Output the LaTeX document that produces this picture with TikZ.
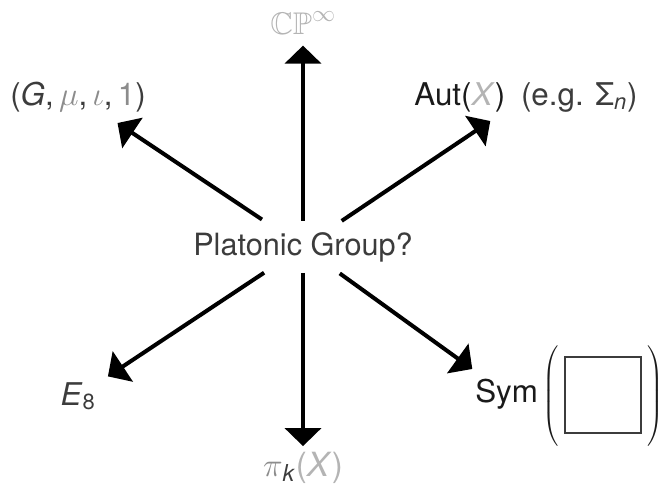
\documentclass[tikz,border=0pt]{standalone}
\usepackage{amssymb}
\usepackage{fontspec}
\setmainfont{TeX Gyre Heros}
\usetikzlibrary{arrows.meta}
\definecolor{inkblack}{HTML}{1A1A1A}
\definecolor{inkdark}{HTML}{3C3C3C}
\definecolor{inkmid}{HTML}{8C8C8C}
\definecolor{inklight}{HTML}{B4B4B4}

\begin{document}
\begin{tikzpicture}[
  x=0.75pt, y=-0.75pt,
  lbl/.style={inner sep=0pt, font=\fontsize{23.5}{28}\selectfont, text=#1},
  lbl/.default=inkdark,
  paren/.style={inner sep=0pt, font=\fontsize{14}{16}\selectfont, text=inkblack},
  arrow/.style={-{Triangle[length=13.5pt,width=27pt]}, line width=3pt},
]
\useasboundingbox (0,0) rectangle (664,489);

\node[lbl, font=\fontsize{23}{27}\selectfont, anchor=base] (pg) at (303,255) {Platonic Group?};
\node[lbl=inklight, anchor=base] (cp) at (303,34) {$\mathbb{CP}^\infty$};
\node[lbl, anchor=base] (gmu) at (78,105) {(\textit{G},\,\textcolor{inkmid}{$\mu$},\,\textcolor{inkmid}{$\iota$},\,\textcolor{inkmid}{1})};
\node[lbl=inkblack, anchor=base] (aut) at (526,105) {Aut(\textcolor{inklight}{\textit{X}})\hspace{0.5em}\textcolor{inkdark}{(e.g. Σ\textsubscript{\textit{n}})}};
\node[lbl, anchor=base] (e8) at (78,405) {\textit{E}\textsubscript{8}};
\node[lbl=inkblack, anchor=base west] (sym) at (475,402) {Sym};
\node[draw=inkdark, line width=1pt, minimum size=57pt, inner sep=0pt] (symbox) at (603,395) {};
\node[paren] (lpar) at (551,397) {$\left(\vrule height 36pt depth 36pt width 0pt\right.$};
\node[paren] (rpar) at (655,397) {$\left.\vrule height 36pt depth 36pt width 0pt\right)$};
\node[lbl=inkmid, font=\fontsize{25}{30}\selectfont, anchor=base] (pik) at (303,476) {$\pi$\textsubscript{\textcolor{inkdark}{\textit{k}}}\textcolor{inklight}{(\textit{X})}};

\draw[arrow, shorten <=19.5pt, shorten >=8.5pt] (pg.center) -- (cp);
\draw[arrow, shorten <=19.5pt, shorten >=4pt] (pg.center) -- (pik);
\draw[arrow, shorten <=37pt, shorten >=15pt] (pg.center) -- (gmu);
\draw[arrow, shorten <=35pt, shorten >=12pt] (pg.center) -- (aut);
\draw[arrow, shorten <=35pt, shorten >=11pt] (pg.center) -- (e8);
\draw[arrow, shorten <=34pt, shorten >=12pt] (pg.center) -- (sym);

\end{tikzpicture}
\end{document}
